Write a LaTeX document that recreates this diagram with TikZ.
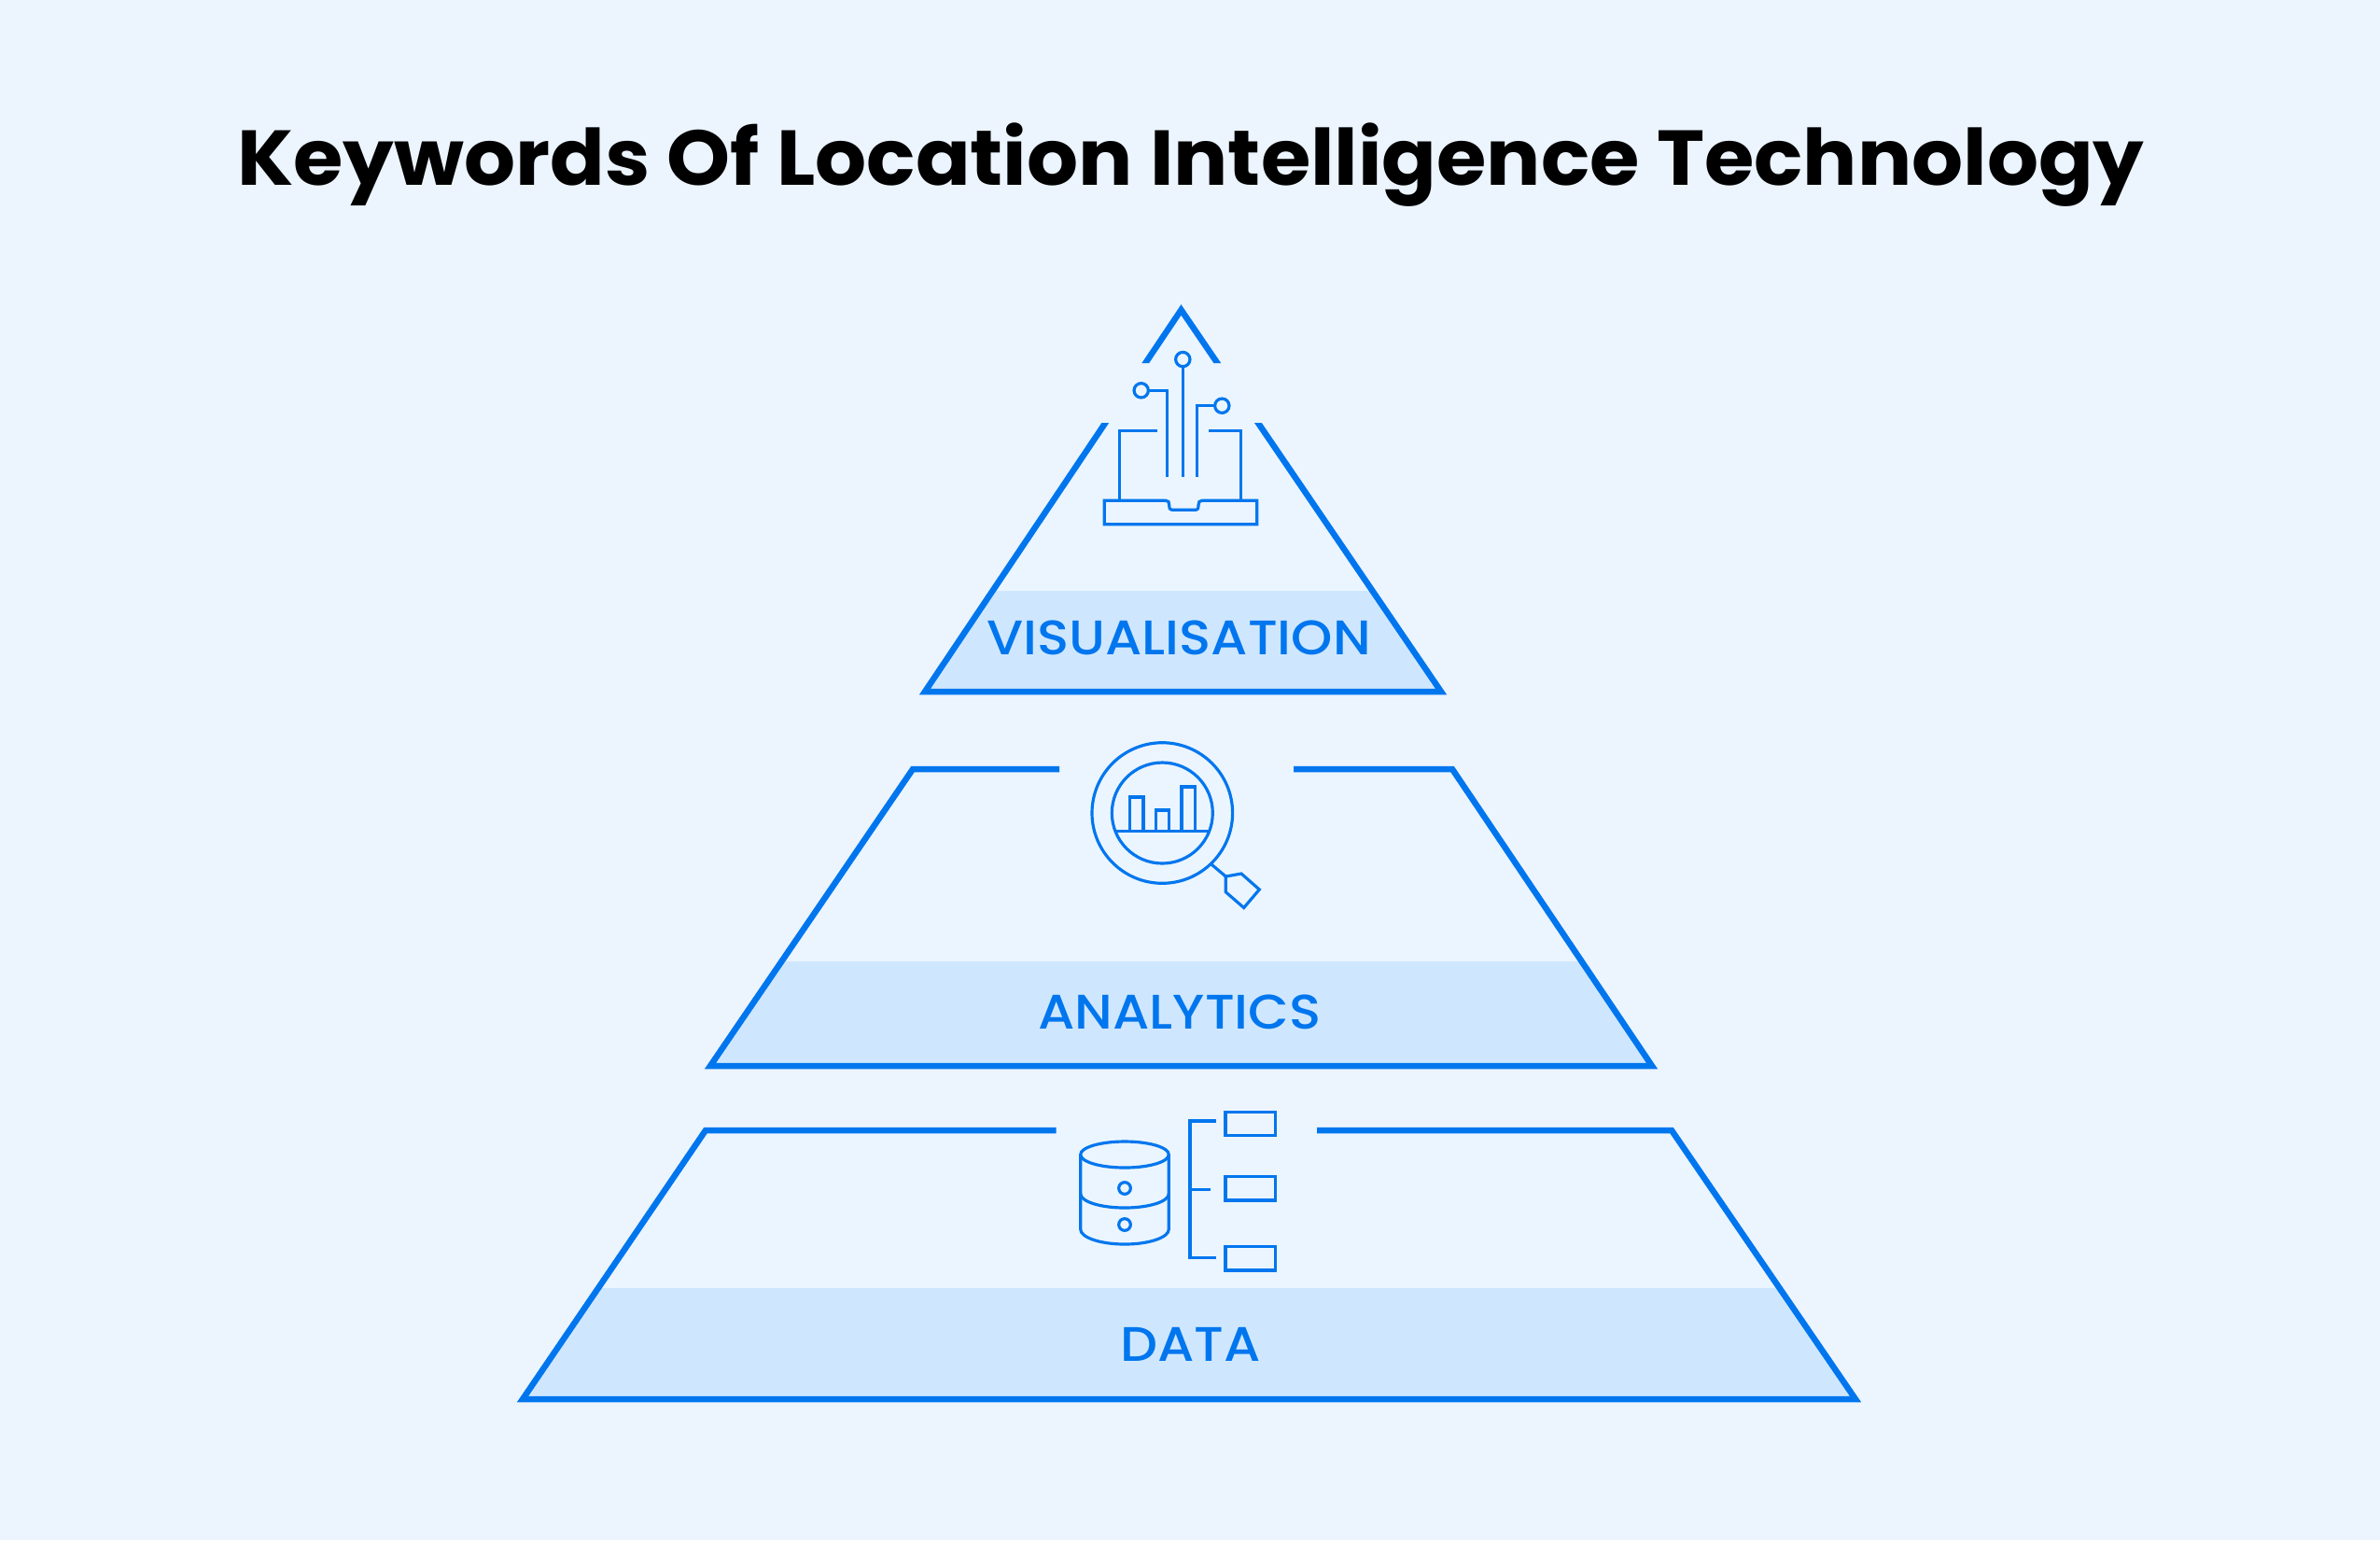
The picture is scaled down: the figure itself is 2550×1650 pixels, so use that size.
\documentclass[tikz,border=0pt]{standalone}
\usepackage{fontspec}
\setmainfont{Poppins}
\newfontfamily\titlefont[FakeStretch=1.038]{Poppins}
\newfontfamily\tierfont[FakeStretch=1.085]{Poppins Medium}
\usetikzlibrary{positioning}
\definecolor{pagebg}{HTML}{ECF4FE}
\definecolor{tierbg}{HTML}{EBF5FF}
\definecolor{bandbg}{HTML}{CFE7FE}
\definecolor{lineblue}{HTML}{0076EE}

\begin{document}
\begin{tikzpicture}[
        x=0.3pt, y=-0.3pt,
        tieredge/.style={draw=lineblue, line width=1.95pt, miter limit=10},
        iconline/.style={draw=lineblue, line width=0.95pt},
        pin/.style={circle, draw=lineblue, line width=0.95pt, minimum size=4.6pt, inner sep=0pt},
        dot/.style={circle, draw=lineblue, line width=0.95pt, minimum size=3.8pt, inner sep=0pt},
        tierlabel/.style={anchor=base, text=lineblue, font=\tierfont\fontsize{15.6}{18}\selectfont},
      ]
        \useasboundingbox (0,0) rectangle (2550,1650);
        \fill[pagebg] (0,0) rectangle (2550,1650);

        \node (title) [anchor=base, font=\titlefont\bfseries\fontsize{25}{30}\selectfont] at (1276,198) {Keywords Of Location Intelligence Technology};

        \fill[tierbg] (991,741) -- (1265.5,332) -- (1544,741) -- cycle;
        \fill[bandbg] (991,741) -- (1063.5,633) -- (1471.5,633) -- (1544,741) -- cycle;
        \fill[tierbg] (761,1142) -- (978,824) -- (1556,824) -- (1770,1142) -- cycle;
        \fill[bandbg] (761,1142) -- (837.5,1030) -- (1693.5,1030) -- (1770,1142) -- cycle;
        \fill[tierbg] (560,1499) -- (756,1211) -- (1791,1211) -- (1988,1499) -- cycle;
        \fill[bandbg] (560,1499) -- (641,1380) -- (1907,1380) -- (1988,1499) -- cycle;

        \begin{scope}
          \clip (900,300) rectangle (1650,389) (900,453) rectangle (1650,780);
          \draw[tieredge] (991,741) -- (1265.5,332) -- (1544,741) -- cycle;
        \end{scope}
        \draw[tieredge] (1135,824) -- (978,824) -- (761,1142) -- (1770,1142) -- (1556,824) -- (1386,824);
        \draw[tieredge] (1131.5,1211) -- (756,1211) -- (560,1499) -- (1988,1499) -- (1791,1211) -- (1411,1211);

        \node (visualisation) [tierlabel] at (1263,701) {VISUALISATION};
        \node (analytics) [tierlabel] at (1264,1102) {ANALYTICS};
        \node (data) [tierlabel] at (1275.5,1458) {DATA};

        \node (pinmid) [pin] at (1267.3,385) {};
        \node (pinleft) [pin] at (1222.7,418.3) {};
        \node (pinright) [pin] at (1309.3,434.7) {};
        \coordinate (wireend) at (0,511);
        \draw[iconline] (pinmid) -- (pinmid |- wireend);
        \draw[iconline] (pinleft) -- (1250.3,418.3) -- (1250.3,511);
        \draw[iconline] (pinright) -- (1282.3,434.7) -- (1282.3,511);
        \draw[iconline] (1239.7,461.3) -- (1199.3,461.3) -- (1199.3,536.5);
        \draw[iconline] (1295,461.3) -- (1329.7,461.3) -- (1329.7,536.5);
        \draw[iconline] (1183.3,536.3) -- (1249,536.3) .. controls (1252,536.3) and (1252.7,538) .. (1252.7,541) .. controls (1252.7,545) and (1253.5,546.3) .. (1257,546.3) -- (1280,546.3) .. controls (1283.5,546.3) and (1284,545) .. (1284,541) .. controls (1284,538) and (1285,536.3) .. (1288,536.3) -- (1346.7,536.3) -- (1346.7,561.7) -- (1183.3,561.7) -- cycle;

        \draw[iconline] (1245.3,871) circle [radius=75.3];
        \draw[iconline] (1245.3,871) circle [radius=54];
        \draw[iconline] (1195,890.5) -- (1295.6,890.5);
        \draw[iconline] (1210.7,890.5) rectangle (1225,854);
        \draw[iconline] (1238.3,890.5) rectangle (1252.7,868);
        \draw[iconline] (1266,890.5) rectangle (1280.3,843);
        \draw[iconline] (1297.3,925.5) -- (1313.3,939);
        \draw[iconline] (1313.3,939) -- (1330,936) -- (1349.3,953) -- (1332.7,972.5) -- (1313.3,955.7) -- cycle;

        \draw[iconline] (1205,1237) ellipse [x radius=47.3, y radius=14];
        \draw[iconline] (1157.7,1237) -- (1157.7,1317) arc [start angle=180, end angle=0, x radius=47.3, y radius=16] -- (1252.3,1237);
        \draw[iconline] (1157.7,1279) arc [start angle=180, end angle=0, x radius=47.3, y radius=15];
        \node (dotup) [dot] at (1205,1273) {};
        \node (dotlow) [dot] at (1205,1312) {};

        \draw[iconline] (1303.3,1201) -- (1275,1201) -- (1275,1347.5) -- (1303.3,1347.5);
        \draw[iconline] (1275,1274.5) -- (1296.7,1274.5);
        \draw[iconline] (1313,1191.5) rectangle (1366.7,1216.5);
        \draw[iconline] (1313,1260.5) rectangle (1366.7,1286);
        \draw[iconline] (1313,1335.5) rectangle (1366.7,1361);
      \end{tikzpicture}
\end{document}
